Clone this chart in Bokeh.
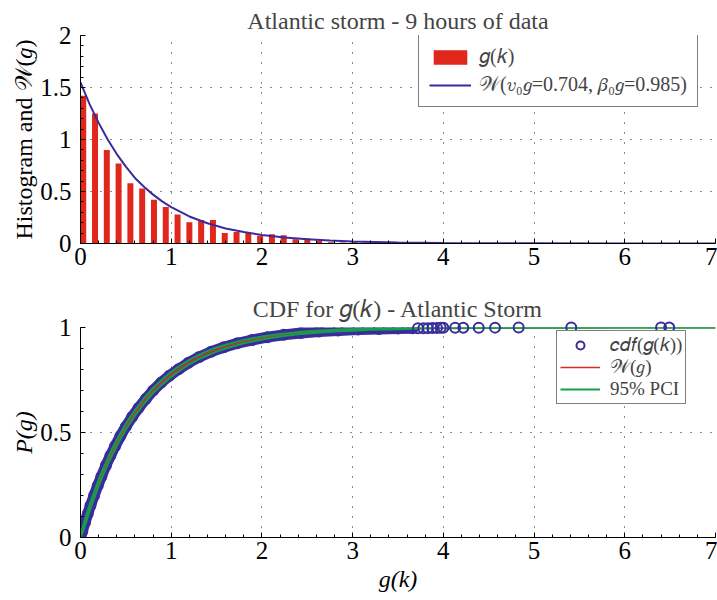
from bokeh.plotting import figure
from bokeh.layouts import column
from bokeh.models import (Legend, LegendItem, SingleIntervalTicker,
                          CustomJSTickFormatter, Range1d)
from bokeh.embed import file_html
from bokeh.resources import INLINE

# ---------------- data: histogram of g(k) ----------------
bin_centers = [0.03, 0.16, 0.29, 0.42, 0.55, 0.68, 0.81, 0.94, 1.07, 1.20,
               1.33, 1.46, 1.59, 1.72, 1.85, 1.98, 2.11, 2.24, 2.37, 2.50,
               2.63, 2.76, 2.89, 3.02, 3.15, 3.28, 3.41, 3.54, 3.67]
bin_heights = [1.42, 1.25, 0.90, 0.77, 0.58, 0.53, 0.42, 0.35, 0.28, 0.205,
               0.225, 0.225, 0.10, 0.11, 0.10, 0.075, 0.09, 0.08, 0.04, 0.05,
               0.025, 0.012, 0.01, 0.012, 0.01, 0.005, 0.004, 0.003, 0.003]

# fitted density W(v0g=0.704, beta0g=0.985)
pdf_x = [0, 0.1, 0.2, 0.3, 0.4, 0.5, 0.6, 0.7, 0.8, 0.9, 1.0, 1.2, 1.4, 1.6,
         1.8, 2.0, 2.25, 2.5, 2.75, 3.0, 3.5, 4.0, 4.5, 5.0, 6.0, 7.0]
pdf_y = [1.55, 1.34, 1.16, 1.00, 0.86, 0.74, 0.63, 0.545, 0.47, 0.405, 0.35,
         0.26, 0.195, 0.145, 0.11, 0.082, 0.058, 0.04, 0.028, 0.02, 0.01,
         0.005, 0.003, 0.002, 0.001, 0.0]

# ---------------- data: CDF ----------------
cdf_x = [0, 0.02, 0.04, 0.06, 0.08, 0.1, 0.13, 0.16, 0.2, 0.25, 0.3, 0.35,
         0.4, 0.45, 0.5, 0.6, 0.7, 0.8, 0.9, 1.0, 1.1, 1.2, 1.3, 1.4, 1.5,
         1.6, 1.8, 2.0, 2.2, 2.4, 2.6, 2.8, 3.0, 3.2, 3.4, 3.6, 3.8, 4.0,
         4.5, 5.0, 5.5, 6.0, 6.5, 7.0]
cdf_p = [0, 0.03, 0.058, 0.086, 0.113, 0.14, 0.177, 0.213, 0.26, 0.313,
         0.362, 0.408, 0.45, 0.49, 0.528, 0.593, 0.65, 0.70, 0.74, 0.777,
         0.808, 0.835, 0.858, 0.878, 0.895, 0.909, 0.933, 0.95, 0.963, 0.973,
         0.98, 0.985, 0.989, 0.992, 0.994, 0.995, 0.997, 0.998, 0.999,
         0.9994, 0.9997, 0.9999, 1.0, 1.0]
pci_lo = [0, 0.02, 0.044, 0.071, 0.098, 0.125, 0.162, 0.198, 0.245, 0.298,
          0.347, 0.393, 0.436, 0.476, 0.514, 0.58, 0.637, 0.688, 0.728,
          0.765, 0.797, 0.824, 0.848, 0.868, 0.885, 0.90, 0.925, 0.943,
          0.957, 0.968, 0.975, 0.981, 0.985, 0.989, 0.991, 0.993, 0.995,
          0.996, 0.998, 0.9984, 0.9987, 0.9999, 1.0, 1.0]
pci_hi = [0, 0.04, 0.072, 0.101, 0.128, 0.155, 0.192, 0.228, 0.275, 0.328,
          0.377, 0.423, 0.464, 0.504, 0.542, 0.606, 0.663, 0.712, 0.752,
          0.789, 0.819, 0.846, 0.868, 0.888, 0.905, 0.918, 0.941, 0.957,
          0.969, 0.978, 0.985, 0.989, 0.993, 0.995, 0.997, 0.997, 0.999,
          1.0, 1.0, 1.0, 1.0, 1.0, 1.0, 1.0]

# empirical cdf(g(k)) points
emp_x = [0, 0.02, 0.05, 0.08, 0.11, 0.15, 0.19, 0.23, 0.28, 0.33, 0.38, 0.44,
         0.50, 0.57, 0.64, 0.72, 0.80, 0.89, 0.98, 1.08, 1.19, 1.31, 1.44,
         1.58, 1.73, 1.89, 2.06, 2.24, 2.43, 2.63, 2.84, 3.06, 3.29, 3.5,
         3.66]
emp_p = [0, 0.03, 0.072, 0.113, 0.152, 0.20, 0.247, 0.29, 0.343, 0.39,
         0.434, 0.483, 0.528, 0.575, 0.617, 0.66, 0.70, 0.738, 0.77, 0.801,
         0.832, 0.86, 0.885, 0.906, 0.925, 0.94, 0.954, 0.965, 0.974, 0.981,
         0.986, 0.99, 0.993, 0.995, 0.996]
tail_x = [3.72, 3.78, 3.83, 3.88, 3.93, 3.97, 4.0, 4.13, 4.22, 4.39, 4.57,
          4.83, 5.41, 6.40, 6.49]
tail_p = [0.996, 0.9965, 0.997, 0.9975, 0.998, 0.9983, 0.9985, 0.9988,
          0.999, 0.9992, 0.9994, 0.9996, 0.9997, 0.9998, 1.0]

FONT = "Liberation Serif"
RED = "#e1261c"
NAVY = "#3a2c9c"
GREEN = "#13a04c"


def style(p):
    p.outline_line_color = None
    p.xaxis.ticker = SingleIntervalTicker(interval=1, num_minor_ticks=5)
    for ax in p.axis:
        ax.axis_line_color = "black"
        ax.major_tick_line_color = "black"
        ax.minor_tick_line_color = "black"
        ax.major_tick_in = 5
        ax.major_tick_out = 0
        ax.minor_tick_in = 3
        ax.minor_tick_out = 0
        ax.major_label_text_font = FONT
        ax.major_label_text_font_size = "25px"
        ax.major_label_text_color = "black"
        ax.axis_label_text_font = FONT
        ax.axis_label_text_font_style = "normal"
        ax.axis_label_text_font_size = "24px"
        ax.axis_label_text_color = "black"
        ax.formatter = CustomJSTickFormatter(code="return tick.toString();")
    p.xaxis.major_label_standoff = 4
    p.yaxis.major_label_standoff = 9
    p.yaxis.axis_label_standoff = 0
    for g in p.grid:
        g.grid_line_color = "black"
        g.grid_line_dash = "1 9"
        g.grid_line_alpha = 0.9
    p.title.text_font = FONT
    p.title.text_font_style = "normal"
    p.title.text_font_size = "24px"
    p.title.align = "center"


# ---------------- top figure ----------------
p1 = figure(width=717, height=283, x_range=Range1d(0, 7), y_range=Range1d(0, 2),
            output_backend="svg", toolbar_location=None,
            title="Atlantic storm - 9 hours of data",
            min_border_left=80, min_border_right=2, min_border_top=35,
            min_border_bottom=40)
style(p1)
p1.title.standoff = 3
p1.yaxis.ticker = SingleIntervalTicker(interval=0.5, num_minor_ticks=5)
p1.yaxis.axis_label = "Histogram and 𝒲(𝑔)"

bars = p1.vbar(x=bin_centers, top=bin_heights, width=0.066, bottom=0,
               fill_color=RED, line_color=None)
fit = p1.line(pdf_x, pdf_y, line_color=NAVY, line_width=2)

leg1 = Legend(items=[LegendItem(label="𝑔(𝑘)", renderers=[bars]),
                     LegendItem(label="𝒲(𝑣₀𝑔=0.704, 𝛽₀𝑔=0.985)", renderers=[fit])],
              location=(338, 136), glyph_width=42, glyph_height=18,
              label_text_font=FONT, label_text_font_size="20px",
              label_standoff=8, padding=10, spacing=5, margin=0,
              border_line_color="black", border_line_width=1,
              background_fill_alpha=1)
p1.add_layout(leg1)

# ---------------- bottom figure ----------------
p2 = figure(width=717, height=317, x_range=Range1d(0, 7), y_range=Range1d(0, 1),
            output_backend="svg", toolbar_location=None,
            title="CDF for 𝑔(𝑘) - Atlantic Storm",
            min_border_left=80, min_border_right=2, min_border_top=44,
            min_border_bottom=63)
style(p2)
p2.title.standoff = 12
p2.yaxis.ticker = SingleIntervalTicker(interval=0.5, num_minor_ticks=5)
p2.yaxis.axis_label = "P(g)"
p2.yaxis.axis_label_text_font_style = "italic"
p2.xaxis.axis_label = "g(k)"
p2.xaxis.axis_label_text_font_style = "italic"
p2.xaxis.axis_label_standoff = 4

p2.line(emp_x, emp_p, line_color=NAVY, line_width=11, line_cap="round")
pts = p2.scatter(emp_x, emp_p, marker="circle", size=10, fill_color=None,
                 line_color=NAVY, line_width=2)
wcdf = p2.line(cdf_x, cdf_p, line_color=RED, line_width=1.5)
g_lo = p2.line(cdf_x, pci_lo, line_color=GREEN, line_width=2)
g_hi = p2.line(cdf_x, pci_hi, line_color=GREEN, line_width=2)
p2.scatter(tail_x, tail_p, marker="circle", size=10, fill_color=None,
           line_color=NAVY, line_width=2, level="overlay")

leg2 = Legend(items=[LegendItem(label="𝑐𝑑𝑓(𝑔(𝑘))", renderers=[pts]),
                     LegendItem(label="𝒲(𝑔)", renderers=[wcdf]),
                     LegendItem(label="95% PCI", renderers=[g_lo])],
              location=(476, 133), glyph_width=40, glyph_height=20,
              label_height=16,
              label_text_font=FONT, label_text_font_size="19px",
              label_standoff=10, padding=3, spacing=0, margin=0,
              border_line_color="black", border_line_width=1,
              background_fill_alpha=1)
p2.add_layout(leg2)

layout = column(p1, p2)
open("out.html", "w").write(file_html(layout, INLINE))
